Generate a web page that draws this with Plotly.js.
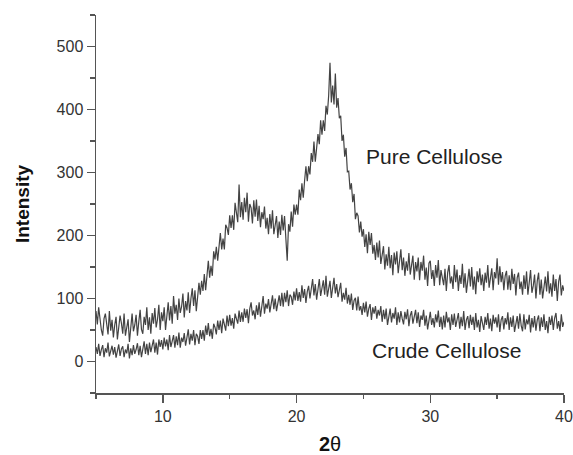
<!DOCTYPE html>
<html>
<head>
<meta charset="utf-8">
<script src="https://cdn.plot.ly/plotly-3.0.1.min.js"></script>
<style>html,body{margin:0;padding:0;background:#fff;}#chart{width:573px;height:455px;}</style>
</head>
<body>
<div id="chart"></div>
<script>
// 2-theta scan grid (degrees)
const thetaStart = 5.0;
const thetaStep = 0.1;

// Pure Cellulose intensity, one value per 0.1 degree from 5.0 to 40.0
const pureCellulose = [
  80, 59, 86, 66, 50, 41, 68, 76, 53, 43,
  80, 49, 66, 38, 58, 71, 35, 53, 73, 61,
  44, 76, 41, 54, 67, 31, 62, 76, 48, 58,
  74, 41, 63, 82, 51, 44, 71, 58, 86, 50,
  70, 44, 77, 60, 85, 54, 67, 90, 50, 78,
  64, 86, 50, 77, 94, 65, 88, 60, 104, 76,
  90, 66, 100, 77, 87, 108, 70, 96, 81, 110,
  77, 100, 116, 88, 113, 80, 107, 125, 106, 128,
  112, 139, 113, 141, 160, 133, 152, 136, 175, 162,
  182, 160, 184, 204, 178, 195, 178, 217, 212, 201,
  232, 212, 232, 209, 252, 234, 221, 281, 229, 253,
  225, 260, 237, 268, 222, 250, 244, 219, 256, 230,
  257, 223, 247, 213, 237, 226, 246, 211, 228, 202,
  234, 211, 240, 202, 222, 231, 196, 222, 201, 233,
  208, 231, 195, 160, 218, 206, 238, 214, 249, 233,
  249, 233, 273, 256, 283, 260, 287, 310, 286, 310,
  297, 331, 317, 349, 317, 343, 361, 345, 383, 360,
  383, 366, 406, 392, 422, 474, 411, 438, 408, 457,
  403, 418, 386, 390, 350, 360, 325, 339, 301, 302,
  273, 283, 253, 266, 226, 236, 231, 205, 222, 198,
  210, 182, 202, 172, 206, 185, 204, 171, 185, 161,
  189, 165, 192, 155, 172, 183, 146, 170, 152, 182,
  148, 169, 137, 173, 154, 175, 140, 158, 178, 145,
  165, 136, 159, 144, 172, 138, 155, 168, 130, 158,
  143, 165, 129, 158, 144, 168, 130, 149, 120, 156,
  160, 131, 145, 120, 153, 133, 161, 121, 145, 133,
  121, 147, 112, 141, 153, 124, 135, 115, 153, 126,
  146, 112, 137, 123, 155, 117, 140, 109, 133, 147,
  119, 150, 114, 135, 107, 143, 126, 148, 121, 138,
  112, 141, 125, 153, 117, 135, 148, 113, 142, 132,
  164, 122, 151, 126, 142, 113, 136, 144, 114, 137,
  113, 147, 123, 139, 105, 133, 141, 115, 127, 106,
  137, 115, 143, 106, 127, 145, 109, 120, 138, 100,
  128, 141, 106, 130, 100, 121, 135, 111, 143, 108,
  124, 103, 138, 112, 131, 96, 127, 138, 105, 121,
  112
];

// Crude Cellulose intensity, one value per 0.1 degree from 5.0 to 40.0
const crudeCellulose = [
  23, 12, 28, 9, 19, 26, 7, 21, 14, 30,
  8, 18, 25, 11, 23, 6, 16, 27, 9, 20,
  24, 7, 19, 13, 28, 5, 21, 10, 26, 12,
  19, 29, 10, 25, 7, 23, 32, 12, 28, 10,
  30, 15, 24, 35, 14, 30, 11, 35, 23, 34,
  19, 38, 24, 35, 18, 42, 23, 33, 42, 22,
  40, 26, 46, 22, 38, 31, 45, 25, 41, 51,
  27, 44, 33, 50, 26, 44, 40, 28, 50, 36,
  50, 33, 57, 42, 61, 40, 52, 36, 60, 54,
  43, 65, 50, 65, 45, 68, 59, 49, 73, 56,
  74, 57, 69, 52, 76, 68, 60, 81, 63, 78,
  63, 84, 69, 83, 61, 84, 94, 73, 81, 67,
  89, 74, 94, 71, 87, 104, 76, 92, 84, 99,
  78, 95, 105, 83, 100, 80, 97, 105, 88, 109,
  87, 109, 94, 113, 88, 106, 103, 90, 111, 97,
  116, 96, 110, 95, 121, 101, 115, 93, 111, 120,
  100, 117, 131, 105, 123, 98, 116, 131, 104, 120,
  129, 106, 136, 103, 117, 128, 101, 123, 133, 108,
  123, 102, 115, 125, 95, 109, 98, 117, 92, 106,
  90, 108, 82, 97, 101, 81, 103, 81, 88, 74,
  93, 78, 95, 71, 84, 91, 66, 86, 76, 88,
  68, 82, 73, 88, 63, 82, 67, 84, 58, 76,
  84, 62, 77, 68, 86, 58, 78, 62, 80, 68,
  59, 79, 67, 83, 56, 73, 80, 60, 70, 82,
  61, 78, 55, 73, 66, 82, 57, 73, 51, 70,
  79, 58, 69, 54, 75, 62, 81, 55, 71, 51,
  73, 54, 79, 62, 70, 50, 75, 58, 76, 55,
  68, 77, 52, 71, 56, 80, 50, 66, 72, 53,
  74, 58, 71, 50, 77, 54, 66, 47, 72, 63,
  50, 71, 58, 77, 52, 68, 48, 74, 60, 70,
  54, 75, 47, 66, 72, 51, 69, 59, 78, 50,
  70, 55, 73, 47, 64, 72, 52, 76, 57, 48,
  75, 51, 67, 59, 74, 46, 69, 54, 72, 49,
  66, 73, 48, 70, 55, 75, 50, 64, 45, 71,
  58, 73, 50, 69, 77, 52, 64, 48, 75, 55,
  63
];

const seriesNames = ["Pure Cellulose", "Crude Cellulose"];
const xTickVals = [10, 20, 30, 40];
const yTickVals = [0, 100, 200, 300, 400, 500];

function grid(n) {
  const xs = [];
  for (let i = 0; i < n; i++) xs.push(+(thetaStart + i * thetaStep).toFixed(2));
  return xs;
}

const font = "Arial, 'Liberation Sans', sans-serif";
const traces = [
  { x: grid(pureCellulose.length), y: pureCellulose, name: seriesNames[0], type: "scatter", mode: "lines",
    line: { color: "#222", width: 1.2 }, opacity: 0.85 },
  { x: grid(crudeCellulose.length), y: crudeCellulose, name: seriesNames[1], type: "scatter", mode: "lines",
    line: { color: "#222", width: 1.2 }, opacity: 0.85 }
];

const axisCommon = {
  showline: true, linecolor: "#555", linewidth: 1.5, mirror: false,
  ticks: "outside", ticklen: 8, tickwidth: 1.5, tickcolor: "#555",
  showgrid: false, zeroline: false,
  tickfont: { family: font, size: 16, color: "#333" }
};

const layout = {
  width: 573, height: 455,
  margin: { l: 96, r: 9, t: 15, b: 62 },
  paper_bgcolor: "#fff", plot_bgcolor: "#fff",
  showlegend: false,
  font: { family: font, color: "#222" },
  xaxis: Object.assign({}, axisCommon, {
    range: [5, 40], tickvals: xTickVals,
    minor: { dtick: 5, tick0: 0, ticks: "outside", ticklen: 4, tickwidth: 1.5, tickcolor: "#555" },
    title: { text: "<b>2</b>θ", font: { family: font, size: 20, color: "#111" }, standoff: 14 },
    automargin: false
  }),
  yaxis: Object.assign({}, axisCommon, {
    range: [-50, 550], tickvals: yTickVals,
    minor: { dtick: 50, tick0: 0, ticks: "outside", ticklen: 5, tickwidth: 1.5, tickcolor: "#555" },
    title: { text: "<b>Intensity</b>", font: { family: font, size: 19, color: "#111" }, standoff: 22 },
    automargin: false
  }),
  annotations: [
    { x: 30.33, y: 326, xref: "x", yref: "y", text: seriesNames[0], showarrow: false,
      font: { family: font, size: 21, color: "#222" } },
    { x: 31.23, y: 17, xref: "x", yref: "y", text: seriesNames[1], showarrow: false,
      font: { family: font, size: 21, color: "#222" } }
  ]
};

Plotly.newPlot("chart", traces, layout, { displayModeBar: false, staticPlot: true });
</script>
</body>
</html>
